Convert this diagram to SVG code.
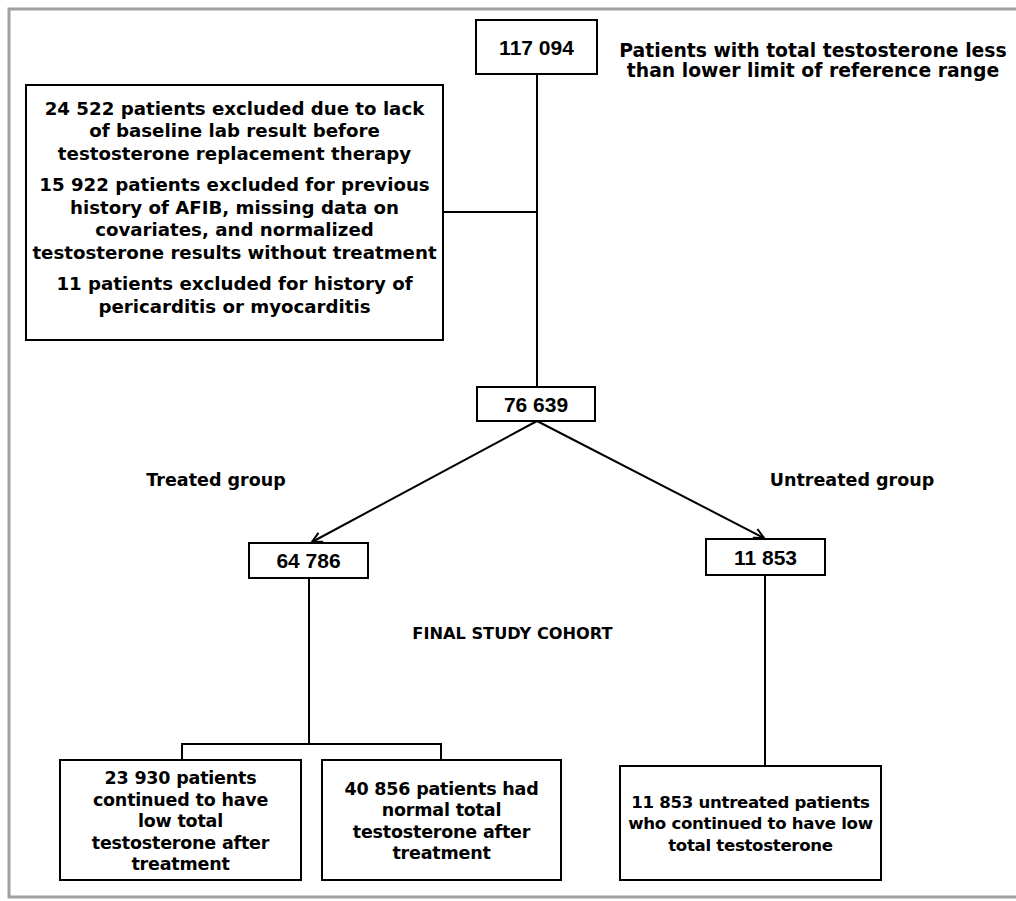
<svg xmlns="http://www.w3.org/2000/svg" width="1016" height="901" viewBox="0 0 1016 901">
<style>
.box{fill:#fff;stroke:#000;stroke-width:2}
.w{font-family:"DejaVu Sans",sans-serif;font-weight:bold;font-size:18.2px;fill:#000;text-anchor:middle;dominant-baseline:central}
.g{font-family:"DejaVu Sans",sans-serif;font-weight:bold;font-size:17.5px;fill:#000;text-anchor:middle;dominant-baseline:central}
.t{font-family:"DejaVu Sans",sans-serif;font-weight:bold;font-size:18.8px;fill:#000;text-anchor:middle;dominant-baseline:central}
.n{font-family:"Liberation Sans",Arial,sans-serif;font-weight:bold;font-size:21px;fill:#000;text-anchor:middle;dominant-baseline:central}
.c{font-family:"DejaVu Sans",sans-serif;font-weight:bold;font-size:17.5px;letter-spacing:-0.2px;fill:#000;text-anchor:middle;dominant-baseline:central}
.d{font-family:"DejaVu Sans",sans-serif;font-weight:bold;font-size:16.6px;letter-spacing:-0.3px;fill:#000;text-anchor:middle;dominant-baseline:central}
.ln{fill:none;stroke:#000;stroke-width:2}
</style>
<defs>
<marker id="arr" viewBox="0 0 12 12" refX="11" refY="6" markerWidth="12" markerHeight="12" markerUnits="userSpaceOnUse" orient="auto">
<path d="M1,1 L11,6 L1,11" fill="none" stroke="#000" stroke-width="2"/>
</marker>
</defs>
<rect x="0" y="0" width="1016" height="901" fill="#fff"/>
<path d="M1020,9 H9 V897 H1020" fill="none" stroke="#a0a0a0" stroke-width="3"/>
<g id="connectors">
<line class="ln" x1="537" y1="74" x2="537" y2="388"/>
<line class="ln" x1="443" y1="212" x2="537" y2="212"/>
<line class="ln" x1="537" y1="421" x2="312" y2="542" marker-end="url(#arr)"/>
<line class="ln" x1="537" y1="421" x2="764" y2="538" marker-end="url(#arr)"/>
<path class="ln" d="M309,578 V744 M182,760 V744 H441 V760"/>
<line class="ln" x1="765" y1="575" x2="765" y2="766"/>
</g>
<g id="n117094">
<rect class="box" x="476" y="20" width="121" height="54"/>
<text class="n" x="536.5" y="47">117 094</text>
</g>
<g id="lbl-top">
<text class="t" x="813" y="50">Patients with total testosterone less</text>
<text class="t" x="813" y="70">than lower limit of reference range</text>
</g>
<g id="excluded">
<rect class="box" x="26" y="85" width="417" height="255"/>
<text class="w" x="234.5" y="108">24 522 patients excluded due to lack</text>
<text class="w" x="234.5" y="130.5">of baseline lab result before</text>
<text class="w" x="234.5" y="153">testosterone replacement therapy</text>
<text class="w" x="234.5" y="184.5">15 922 patients excluded for previous</text>
<text class="w" x="234.5" y="207">history of AFIB, missing data on</text>
<text class="w" x="234.5" y="229.5">covariates, and normalized</text>
<text class="w" x="234.5" y="252">testosterone results without treatment</text>
<text class="w" x="234.5" y="283.5">11 patients excluded for history of</text>
<text class="w" x="234.5" y="306">pericarditis or myocarditis</text>
</g>
<g id="n76639">
<rect class="box" x="477" y="387" width="118" height="34"/>
<text class="n" x="536" y="404">76 639</text>
</g>
<g id="lbl-treated"><text class="g" x="216" y="480">Treated group</text></g>
<g id="lbl-untreated"><text class="g" x="852" y="480">Untreated group</text></g>
<g id="n64786">
<rect class="box" x="249" y="543" width="119" height="35"/>
<text class="n" x="308.5" y="560.5">64 786</text>
</g>
<g id="n11853">
<rect class="box" x="706" y="539" width="119" height="36"/>
<text class="n" x="765.5" y="557">11 853</text>
</g>
<g id="lbl-final"><text class="g" x="512.5" y="633" style="font-size:16.2px">FINAL STUDY COHORT</text></g>
<g id="n23930">
<rect class="box" x="60" y="760" width="241" height="120"/>
<text class="c" x="180.5" y="778">23 930 patients</text>
<text class="c" x="180.5" y="799.5">continued to have</text>
<text class="c" x="180.5" y="821">low total</text>
<text class="c" x="180.5" y="842.5">testosterone after</text>
<text class="c" x="180.5" y="864">treatment</text>
</g>
<g id="n40856">
<rect class="box" x="322" y="760" width="239" height="120"/>
<text class="c" x="441.5" y="788.5">40 856 patients had</text>
<text class="c" x="441.5" y="810">normal total</text>
<text class="c" x="441.5" y="831.5">testosterone after</text>
<text class="c" x="441.5" y="853">treatment</text>
</g>
<g id="n11853u">
<rect class="box" x="620" y="766" width="261" height="114"/>
<text class="d" x="750.5" y="802">11 853 untreated patients</text>
<text class="d" x="750.5" y="823.5">who continued to have low</text>
<text class="d" x="750.5" y="845">total testosterone</text>
</g>
</svg>
